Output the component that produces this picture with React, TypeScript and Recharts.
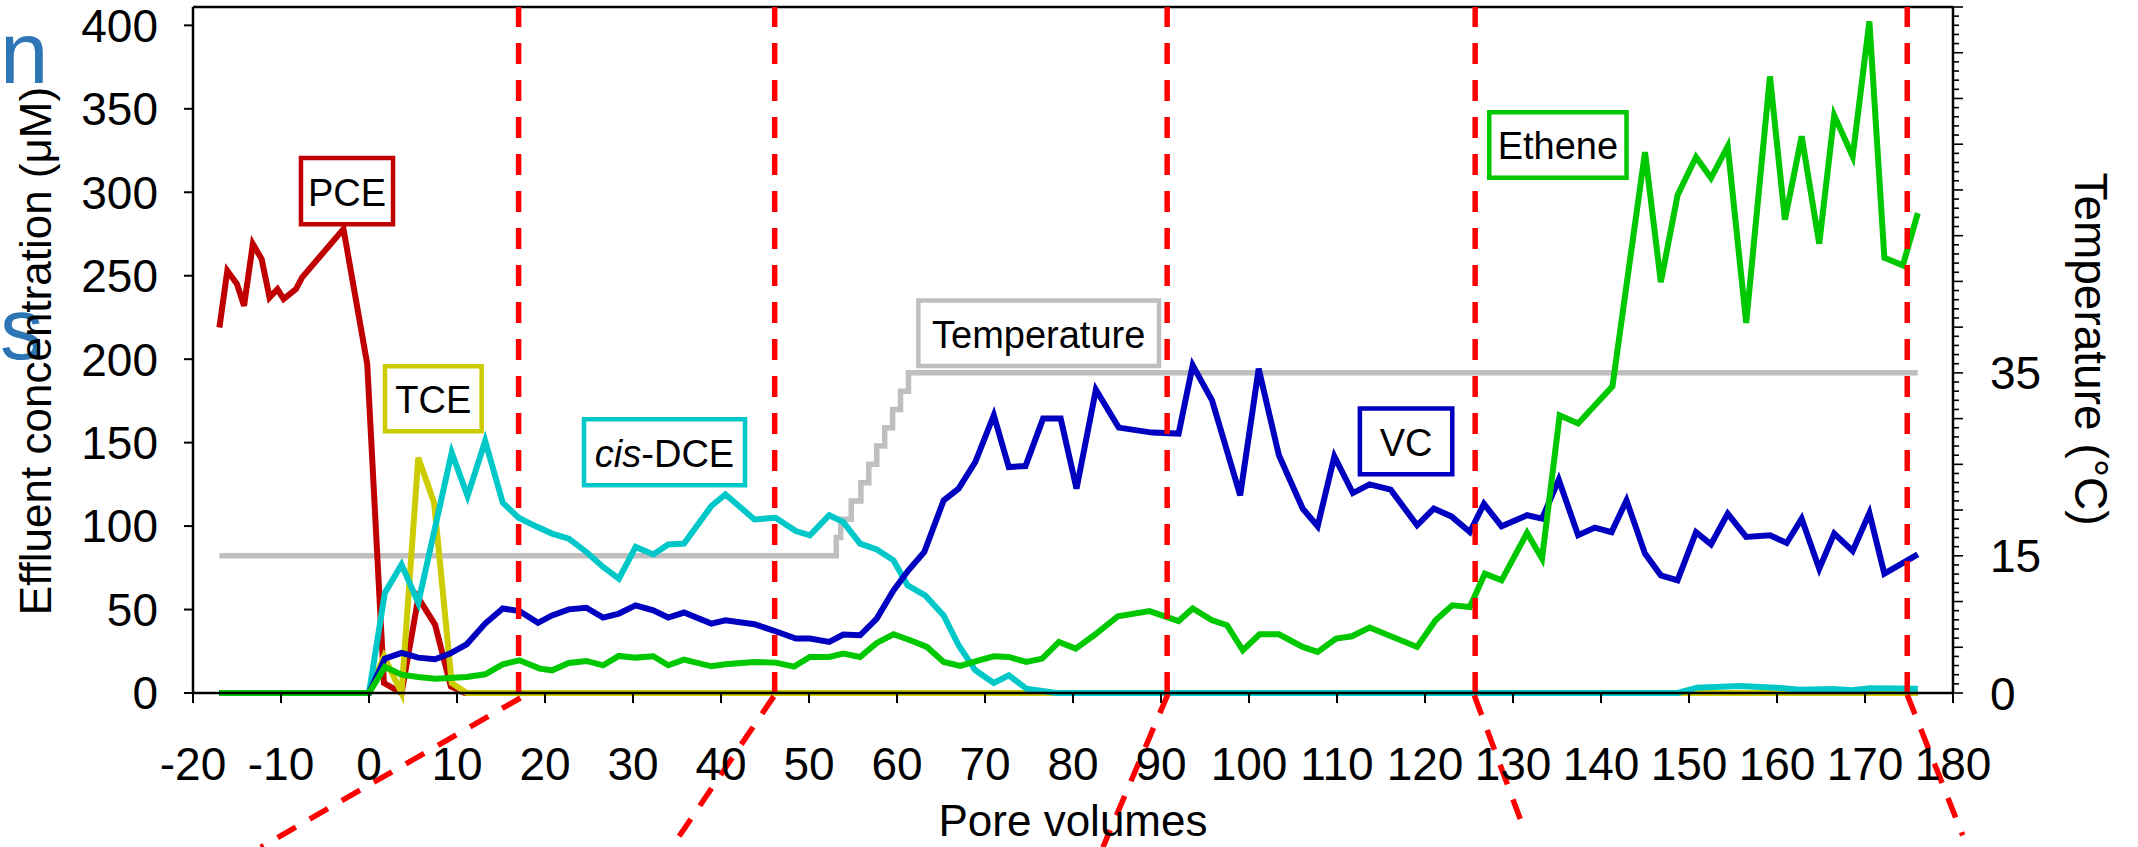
import React from 'react';
import { LineChart, Line, XAxis, YAxis, ReferenceLine, ReferenceArea } from 'recharts';

const FONT = "'Liberation Sans', Arial, sans-serif";

// ---- data (pore volumes, value) ----
const pce: [number, number][] = [
  [-17.0, 219], [-16.1, 253], [-15.0, 245], [-14.2, 232], [-13.2, 269], [-12.2, 260],
  [-11.3, 237], [-10.4, 242], [-9.7, 236], [-8.3, 242], [-7.6, 249], [-2.9, 278],
  [-0.2, 197], [1.7, 6], [3.7, 0], [5.6, 57], [7.5, 41], [9.3, 4], [10.9, 0], [176, 0],
];
const tce: [number, number][] = [
  [-17, 0], [0, 0], [1.7, 22], [3.7, 0], [5.6, 141], [7.4, 114], [9.4, 6], [11.1, 0], [176, 0],
];
const cisDce: [number, number][] = [
  [-17, 0], [0, 0], [1.8, 60], [3.7, 77], [5.6, 54], [9.4, 144], [11.2, 118], [13.2, 151],
  [15.2, 114], [17.0, 105], [18.9, 100], [20.8, 95.5], [22.7, 92.5], [24.7, 84.5], [26.6, 75.5],
  [28.4, 68.5], [30.3, 87.5], [32.3, 83], [34.0, 89], [35.8, 89.5], [38.9, 112], [40.5, 119],
  [43.8, 104], [46.2, 105], [48.5, 97], [50.1, 94.5], [52.3, 106.5], [53.9, 102.4], [55.8, 89.5],
  [57.7, 86], [59.6, 79.5], [61.2, 64.5], [63.2, 58.5], [65.3, 46.5], [67.0, 28.6], [68.9, 13.6],
  [71.0, 6], [72.7, 10.6], [74.7, 2.6], [78.1, 0], [148.7, 0], [150.9, 3.2], [155.7, 4.2],
  [159.9, 3.2], [162.6, 2], [166.4, 2.4], [168.5, 1.6], [170.6, 2.8], [176, 2.6],
];
const vc: [number, number][] = [
  [-17, 0], [0, 0], [1.8, 20.6], [3.7, 24], [5.6, 21.2], [7.5, 20.2], [9.2, 23.6], [11.1, 29.2],
  [13.2, 41.6], [15.2, 50.6], [17.1, 49.1], [19.2, 42], [20.8, 46.5], [22.7, 50.1], [24.7, 51.1],
  [26.6, 45.2], [28.4, 47.6], [30.3, 52.5], [32.3, 49.5], [34.0, 45.2], [35.8, 48.2], [38.9, 41.6],
  [40.5, 43.5], [43.8, 41.2], [46.2, 37], [48.5, 32.6], [50.1, 32.6], [52.3, 30.6], [53.9, 35],
  [55.8, 34.6], [57.7, 44.6], [59.6, 61.5], [61.3, 73.5], [63.1, 84.5], [65.3, 115.4], [67.0, 122.4],
  [68.9, 138.4], [71.0, 166.4], [72.7, 135.4], [74.6, 136], [76.6, 164.4], [78.6, 164.4],
  [80.4, 122.4], [82.6, 181.7], [85.2, 159], [89.0, 156], [92.0, 155.4], [93.6, 196.3],
  [95.8, 175.3], [99.0, 118.4], [101.1, 194.3], [103.4, 142.4], [106.1, 110.5], [107.8, 99.9],
  [109.7, 141.8], [111.8, 119.8], [113.7, 125], [116.1, 121.8], [119.1, 100.5], [121.0, 110.5],
  [123.0, 105.8], [125.1, 96.4], [126.7, 113.3], [128.7, 99.9], [131.6, 106.5], [133.3, 104.5],
  [135.2, 127.8], [137.4, 94.5], [139.3, 99.1], [141.2, 96.4], [142.9, 115.4], [145.0, 83.5],
  [146.8, 70.5], [148.7, 67.5], [150.8, 96.4], [152.5, 89.1], [154.4, 107.5], [156.5, 93.5],
  [159.2, 94.5], [161.1, 89.9], [162.8, 104.5], [164.8, 74.5], [166.5, 95.5], [168.6, 85.1],
  [170.5, 107.8], [172.2, 71.5], [176.0, 83.1],
];
const ethene: [number, number][] = [
  [-17, 0], [0, 0], [1.8, 15.6], [3.7, 11], [5.6, 9.6], [7.5, 8.6], [9.2, 9], [11.1, 9.6],
  [13.2, 11.2], [15.2, 17.2], [17.1, 19.6], [19.4, 14.6], [20.8, 13.6], [22.7, 18], [24.7, 19.2],
  [26.6, 16.6], [28.4, 22.2], [30.3, 21.2], [32.3, 22], [34.0, 16.6], [35.8, 20], [38.9, 16],
  [40.5, 17.2], [43.8, 18.6], [46.2, 18.2], [48.3, 15.8], [50.1, 21.6], [52.3, 21.6], [53.9, 23.6],
  [55.8, 21.6], [57.7, 30], [59.6, 35.2], [61.5, 31.6], [63.4, 27.6], [65.3, 18.6], [67.2, 16.2],
  [69.1, 19.2], [71.0, 22], [72.7, 21.6], [74.7, 18.6], [76.5, 20.6], [78.4, 30.6], [80.3, 26.6],
  [82.4, 34.6], [85.1, 46], [88.7, 49.1], [92.0, 43.1], [93.6, 50.6], [95.8, 43.6], [97.5, 40.6],
  [99.3, 25.6], [101.2, 35.2], [103.4, 35.2], [106.1, 27.6], [107.8, 24.6], [109.9, 32.6],
  [111.7, 34], [113.7, 39.2], [119.1, 27.6], [121.2, 43.6], [123.1, 52.5], [125.1, 51.5],
  [126.8, 71.5], [128.7, 67.5], [131.6, 95.9], [133.3, 80.5], [135.3, 166.4], [137.4, 161.5],
  [141.3, 183.7], [145.0, 324.1], [146.8, 246.2], [148.7, 298.2], [150.8, 321.1], [152.5, 308.5],
  [154.4, 327.5], [156.5, 221.7], [159.2, 369.4], [160.9, 283.6], [162.8, 333.5], [164.8, 269.2],
  [166.5, 346.1], [168.6, 321.5], [170.5, 402.4], [172.2, 260.8], [174.3, 256.2], [176.0, 287.5],
];
const temperature: [number, number][] = [
  [-17, 15], [53.1, 17], [53.6, 19], [54.8, 21], [55.9, 23], [56.8, 25], [57.7, 27],
  [58.6, 29], [59.5, 31], [60.4, 33], [61.3, 35], [176, 35],
];

// ---- axes ----
const xTicks = [-20, -10, 0, 10, 20, 30, 40, 50, 60, 70, 80, 90, 100, 110, 120, 130, 140, 150, 160, 170, 180];
const leftTicks = [0, 50, 100, 150, 200, 250, 300, 350, 400];
const rightTicks = Array.from({ length: 76 }, (_, i) => i);
const rightLabels = [0, 15, 35];

// ---- annotations (data coordinates) ----
const dividerPV = [17.0, 46.1, 90.7, 125.7, 174.8];
const zoomLines: [number, number, number, number][] = [
  [17.2, -3, -12.3, -92.4],
  [46.0, -2, 34.4, -92.4],
  [90.8, -0.5, 83.4, -92.4],
  [125.6, -1.4, 131.3, -82.3],
  [174.8, -1, 181.1, -85.3],
];
const boxes = [
  { text: 'PCE', x1: -7.73, x2: 2.73, y1: 280.8, y2: 320.5, color: '#C00000' },
  { text: 'TCE', x1: 1.82, x2: 12.8, y1: 156.8, y2: 195.7, color: '#CCCC00' },
  { text: 'cis-DCE', x1: 24.43, x2: 42.73, y1: 124.4, y2: 164.0, color: '#00C8C8' },
  { text: 'Temperature', x1: 62.43, x2: 89.77, y1: 195.9, y2: 235.1, color: '#BFBFBF' },
  { text: 'VC', x1: 112.6, x2: 123.1, y1: 131.0, y2: 170.4, color: '#0000C0' },
  { text: 'Ethene', x1: 127.3, x2: 142.9, y1: 308.7, y2: 348.0, color: '#00C800' },
];

const toPts = (arr: [number, number][]) => arr.map(([x, y]) => ({ x, y }));

const series = [
  { name: 'PCE', data: pce, color: '#C00000' },
  { name: 'TCE', data: tce, color: '#CCCC00' },
  { name: 'cis-DCE', data: cisDce, color: '#00C8C8' },
  { name: 'VC', data: vc, color: '#0000C0' },
  { name: 'Ethene', data: ethene, color: '#00C800' },
];

const RightTick = (props: any) => {
  const { x, y, payload } = props;
  const v = payload.value;
  const major = v % 5 === 0;
  return (
    <g>
      <line x1={x} x2={x + (major ? 10 : 6)} y1={y} y2={y} stroke="#000" strokeWidth={1.6} />
      {rightLabels.includes(v) && (
        <text x={x + 37} y={y} dy="0.36em" textAnchor="start" fontSize={46} fontFamily={FONT} fill="#000">
          {v}
        </text>
      )}
    </g>
  );
};

const makeBoxLabel = (text: string) => (props: any) => {
  const vb = props.viewBox || {};
  const cx = vb.x + vb.width / 2;
  const cy = vb.y + vb.height / 2;
  const fs = 38;
  if (text === 'cis-DCE') {
    return (
      <text x={cx} y={cy + fs * 0.38} textAnchor="middle" fontSize={fs} fontFamily={FONT} fill="#000">
        <tspan fontStyle="italic">cis</tspan>-DCE
      </text>
    );
  }
  return (
    <text x={cx} y={cy + fs * 0.38} textAnchor="middle" fontSize={fs} fontFamily={FONT} fill="#000">
      {text}
    </text>
  );
};

export default function App() {
  return (
    <div style={{ position: 'absolute', left: 0, top: 0, width: 2138, height: 847, background: '#fff' }}>
      <LineChart width={2138} height={847} margin={{ top: 7, right: 0, bottom: 0, left: 0 }}>
        <XAxis
          type="number"
          dataKey="x"
          domain={[-20, 180]}
          ticks={xTicks}
          interval={0}
          height={154}
          tickSize={10}
          tickMargin={44}
          axisLine={{ stroke: '#000', strokeWidth: 2.5 }}
          tickLine={{ stroke: '#000', strokeWidth: 2 }}
          tick={{ fontSize: 46, fill: '#000', fontFamily: FONT }}
        />
        <YAxis
          yAxisId="left"
          type="number"
          domain={[0, 411]}
          ticks={leftTicks}
          interval={0}
          width={193}
          tickSize={9}
          tickMargin={26}
          axisLine={{ stroke: '#000', strokeWidth: 2.5 }}
          tickLine={{ stroke: '#000', strokeWidth: 2 }}
          tick={{ fontSize: 46, fill: '#000', fontFamily: FONT }}
        />
        <YAxis
          yAxisId="right"
          orientation="right"
          type="number"
          domain={[0, 75]}
          ticks={rightTicks}
          interval={0}
          width={185}
          tickSize={0}
          tickMargin={0}
          tickLine={false}
          axisLine={{ stroke: '#000', strokeWidth: 2.5 }}
          tick={RightTick}
        />
        <ReferenceLine yAxisId="left" y={411} stroke="#000" strokeWidth={2.5} ifOverflow="visible" />
        <Line
          yAxisId="right"
          data={toPts(temperature)}
          dataKey="y"
          type="stepAfter"
          stroke="#BFBFBF"
          strokeWidth={5.5}
          dot={false}
          isAnimationActive={false}
        />
        {series.map((s) => (
          <Line
            key={s.name}
            yAxisId="left"
            data={toPts(s.data)}
            dataKey="y"
            type="linear"
            stroke={s.color}
            strokeWidth={6}
            dot={false}
            isAnimationActive={false}
          />
        ))}
        {dividerPV.map((v) => (
          <ReferenceLine
            key={'d' + v}
            yAxisId="left"
            x={v}
            stroke="#FF0000"
            strokeWidth={5.5}
            strokeDasharray="21 16"
          />
        ))}
        {zoomLines.map(([x1, y1, x2, y2], i) => (
          <ReferenceLine
            key={'z' + i}
            yAxisId="left"
            segment={[{ x: x1, y: y1 }, { x: x2, y: y2 }]}
            stroke="#FF0000"
            strokeWidth={5.5}
            strokeDasharray="21 16"
            ifOverflow="visible"
          />
        ))}
        {boxes.map((b) => (
          <ReferenceArea
            key={b.text}
            yAxisId="left"
            x1={b.x1}
            x2={b.x2}
            y1={b.y1}
            y2={b.y2}
            fill="#FFFFFF"
            fillOpacity={1}
            stroke={b.color}
            strokeWidth={4.5}
            label={makeBoxLabel(b.text)}
          />
        ))}
      </LineChart>
      <svg
        width={2138}
        height={847}
        style={{ position: 'absolute', left: 0, top: 0, pointerEvents: 'none' }}
      >
        <text x={0} y={83} fontSize={87} fontFamily={FONT} fill="#2E75B6">n</text>
        <text x={0} y={359} fontSize={87} fontFamily={FONT} fill="#2E75B6">s</text>
        <text
          transform="translate(51,351) rotate(-90)"
          textAnchor="middle"
          fontSize={44}
          fontFamily={FONT}
          fill="#000"
        >
          Effluent concentration (μM)
        </text>
        <text
          transform="translate(2075,349) rotate(90)"
          textAnchor="middle"
          fontSize={46}
          fontFamily={FONT}
          fill="#000"
        >
          Temperature (°C)
        </text>
        <text x={1073} y={836} textAnchor="middle" fontSize={44} fontFamily={FONT} fill="#000">
          Pore volumes
        </text>
      </svg>
    </div>
  );
}
